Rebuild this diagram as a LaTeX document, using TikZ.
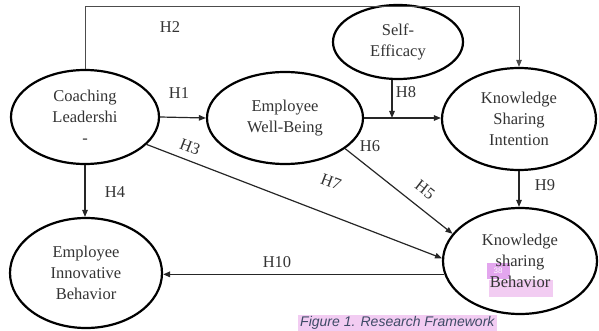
\documentclass[tikz,border=0pt]{standalone}
\usepackage{fontspec}
\setmainfont{Liberation Serif}
\newfontfamily\capfont{Liberation Sans}
\usetikzlibrary{shapes.geometric,arrows.meta}
\definecolor{hlpink}{HTML}{F2CCF2}
\definecolor{hlmag}{HTML}{E3A6EE}
\definecolor{captxt}{HTML}{3E4A66}
\begin{document}
\begin{tikzpicture}[x=1pt,y=-1pt,
  latent/.style={ellipse,draw=black,line width=2.2pt,inner sep=0pt,align=center,
    font=\fontsize{16.5}{21}\selectfont,text=black!80},
  conn/.style={line width=1.2pt,draw=black!85},
  arr/.style={conn,-{Triangle[length=7pt,width=5.5pt]}},
  hlab/.style={font=\fontsize{16.5}{20}\selectfont,text=black!80,inner sep=0pt}]
\useasboundingbox (0,0) rectangle (599,331);
% highlights
\fill[hlpink] (489,280) rectangle (553,297);
\fill[hlmag] (487,263) rectangle (510,279);
\node[font=\capfont\fontsize{8}{8}\selectfont,text=white,inner sep=0pt] (n38) at (498,271) {38};
\fill[hlpink] (298,315) rectangle (497,331);
% nodes
\node[latent,minimum width=148pt,minimum height=94pt] (CL) at (85,117) {Coaching\\Leadershi\\-};
\node[latent,minimum width=156pt,minimum height=92pt] (WB) at (285,118) {Employee\\Well-Being};
\node[latent,minimum width=130pt,minimum height=74pt] (SE) at (398,42) {Self-\\Efficacy};
\node[latent,minimum width=154pt,minimum height=102pt] (KSI) at (519,119) {Knowledge\\Sharing\\Intention};
\node[latent,minimum width=154pt,minimum height=106pt] (KSB) at (520,261) {Knowledge\\sharing\\Behavior};
\node[latent,minimum width=152pt,minimum height=110pt] (EIB) at (86,273) {Employee\\Innovative\\Behavior};
% connectors
\coordinate (tl) at (85,7);
\coordinate (tr) at (519,7);
\coordinate (m8) at (392,118);
\draw[arr,line width=1pt,draw=black!70] (CL.north) -- (tl) -- (tr) -- (KSI.north);
\draw[arr] (CL.east) -- (WB.west);
\draw[arr] (WB.east) -- (KSI.west |- WB.east);
\draw[arr] (SE.south -| m8) -- (m8);
\draw[arr] (CL.-24) -- (KSB.178);
\draw[arr] (WB.-27) -- (KSB.158);
\draw[arr] (CL.south) -- (CL.south |- EIB.north);
\draw[arr] (KSI.south) -- (KSI.south |- KSB.north);
\draw[arr,line width=1.6pt] (KSB.190) -- (KSB.190 -| EIB.east);
% labels
\node[hlab] (lH2) at (170,27) {H2};
\node[hlab] (lH1) at (179,93) {H1};
\node[hlab,rotate=-21] (lH3) at (190,147) {H3};
\node[hlab,rotate=-21] (lH7) at (331,182) {H7};
\node[hlab,rotate=-38] (lH5) at (425,190) {H5};
\node[hlab] (lH6) at (370,146) {H6};
\node[hlab] (lH8) at (406,92) {H8};
\node[hlab] (lH9) at (545,185) {H9};
\node[hlab] (lH4) at (115,192) {H4};
\node[hlab] (lH10) at (277,262) {H10};
% caption
\node[anchor=west,inner sep=0pt,text=captxt,font=\capfont\itshape\fontsize{14}{14}\selectfont] (cap) at (300,323) {Figure 1. Research Framework};
\end{tikzpicture}
\end{document}
